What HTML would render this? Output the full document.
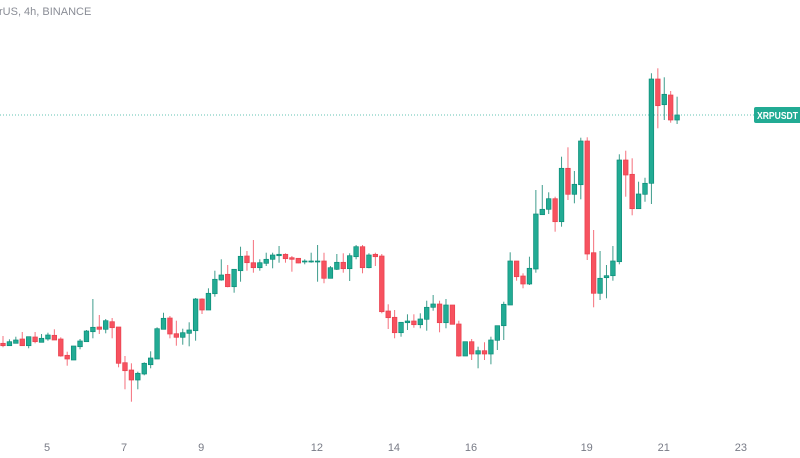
<!DOCTYPE html>
<html><head><meta charset="utf-8"><style>
html,body{margin:0;padding:0;background:#fff;width:800px;height:458px;overflow:hidden;font-family:"Liberation Sans",sans-serif}
</style></head><body>
<svg id="chart" width="800" height="458" xmlns="http://www.w3.org/2000/svg">
<text x="-1" y="15" font-size="11" fill="#8a8d96" font-family="Liberation Sans, sans-serif">rUS, 4h, BINANCE</text>
<g id="candles"></g>
<g id="xaxis"></g>
</svg>
<script>
const opens=[156.7,154.3,156.7,161,154.3,163,157.7,161,164.7,161,144.7,140,153.3,158.3,168.3,173,170.7,178.3,173,137.3,130,120,126,135.3,141,170.7,182,166.3,162.7,166.7,169.3,201,190,206.3,220,225.7,213.3,229.3,244,237.3,232.3,236.7,240.7,244.3,245.7,242.3,241.7,238,238.3,238.3,239,221.7,230.7,237.7,231.3,243.3,253.3,232.3,245.7,244,189,182.7,167.3,177.3,179,175.3,180.7,192.7,196,177.3,195,176,144,158.3,146,149.3,146,159.7,174.3,195,239,224,216,231,285.3,290.7,301.3,278.3,331.7,305.7,315.3,359,247.3,206.7,222.3,224.3,238.3,340,325.7,291.3,305.7,316.7,421,395.3,405,380];
const highs=[164,160.7,163.3,168,163.3,168,166,167.3,170.7,162.7,148.3,154,161,170,201,185,181,182,173,144,136.7,128.3,137.7,148.7,172.7,187.3,184,179.3,171.3,177.7,202,201.7,211.7,229.3,240.7,235,230.7,253.3,249,260,240.7,247.3,247.3,254,246.7,244,241.7,240.7,247.3,255,247.3,234,246,246.7,246.7,255,255,246.7,247.3,246,195.7,190,177.7,185.7,185.7,186.7,199.3,205,199.3,201,195,179.3,158.3,161,153.3,157.7,163.3,174.3,198.3,247.7,239,226.7,243.3,310,315,307.7,303.3,343.3,352.7,329,362.3,362.7,270,249,235,254,345.7,349.3,341.7,318.3,322.3,426.7,431.7,422.7,409,403.3];
const lows=[152.7,154.3,156.7,154.3,151.7,156.7,157.7,159.3,160,143.3,134.3,140,150.7,158.3,161.7,166,166.7,161.7,132.7,110.7,98.3,110.7,124.7,131.7,141,170.7,161.7,154.3,155.3,153.7,159.3,186,190,203.3,219.3,212.7,207.3,218.3,229.3,227.3,229.3,234,231.7,237.3,237.3,228.3,236.7,235.7,237.3,218.3,216.7,221.7,230,227.3,219,240.7,226.7,231.7,234,186.7,171,161.7,163.3,170,172.3,171.7,169.3,189.3,167.7,171.7,175.7,143.3,144,140,131.7,140,135.7,150,160,195,219.3,211.7,215,227.3,285.3,286,268.3,273.3,300,296.7,300.7,240,192.7,200,201.7,219.3,235.7,303.3,284.7,291.3,298.3,296,371.7,380,377.3,376];
const closes=[154.3,158.3,160,154.3,163.3,158.3,161.7,165,160,144,141,154,159,169,172.7,170.7,179.3,172.3,136.7,129.3,120,126.7,136.7,142,171.3,181.7,166,162.7,167.3,170,201,190,206.7,220.7,225,213.3,230.7,243.7,237.3,232.3,237.3,240.7,245,245.7,241.3,240.7,237,239,239,239,221.7,232.3,237.7,231.3,244.3,253.3,232.3,245,243.3,188.3,182.3,167.3,177.7,179,175.3,181,192.7,196,177.3,195,175.7,144,158.3,146,149.3,146,160,174.3,195.7,239,223.3,216,231.7,286,290.7,301.3,278.3,331.7,305.7,315.7,359,246,206.7,221.7,224.3,239,340,325,291.3,306,316.7,421,394.3,405.7,380,385];
const dayLabels=["5","7","9","12","14","16","19","21","23"];
const dayValues=[5,7,9,12,14,16,19,21,23];
const lastPrice=385;

const NS="http://www.w3.org/2000/svg";
function xScale(i){return 3+i*6.42;}
function yScale(v){return 500-v;}
function xDay(d){return 47+(d-5)*38.55;}
const g=document.getElementById('candles');
for(let i=0;i<opens.length;i++){
  const up=closes[i]>=opens[i];
  const fill=up?'#22ab94':'#f7525f', stroke=up?'#0b8d78':'#e8404e', wc=up?'#3e9c8c':'#f5707c';
  const x=xScale(i);
  const w=document.createElementNS(NS,'line');
  
  
  w.setAttribute('x1',x);w.setAttribute('x2',x);
  w.setAttribute('y1',yScale(highs[i]));w.setAttribute('y2',yScale(lows[i]));
  w.setAttribute('stroke',wc);w.setAttribute('stroke-width','1');
  g.appendChild(w);
  const top=yScale(Math.max(opens[i],closes[i])), bot=yScale(Math.min(opens[i],closes[i]));
  const r=document.createElementNS(NS,'rect');
  
  
  r.setAttribute('x',x-2.3);r.setAttribute('width',4.6);
  r.setAttribute('y',top);r.setAttribute('height',Math.max(1,bot-top));
  r.setAttribute('fill',fill);r.setAttribute('stroke',stroke);r.setAttribute('stroke-width','0.7');
  g.appendChild(r);
}
const svg=document.getElementById('chart');
const py=yScale(lastPrice);
const pl=document.createElementNS(NS,'line');


pl.setAttribute('x1',0);pl.setAttribute('x2',754);pl.setAttribute('y1',py);pl.setAttribute('y2',py);
pl.setAttribute('stroke','#22ab94');pl.setAttribute('stroke-width','1');pl.setAttribute('stroke-dasharray','1 2');pl.setAttribute('opacity','0.7');
svg.appendChild(pl);
const lb=document.createElementNS(NS,'rect');


lb.setAttribute('x',754);lb.setAttribute('y',py-8);lb.setAttribute('width',48);lb.setAttribute('height',16);lb.setAttribute('rx',2);lb.setAttribute('fill','#22ab94');
svg.appendChild(lb);
const lt=document.createElementNS(NS,'text');


lt.setAttribute('x',757);lt.setAttribute('y',py+4);lt.setAttribute('font-size','10');lt.setAttribute('font-weight','bold');lt.setAttribute('fill','#fff');
lt.setAttribute('textLength','41');lt.setAttribute('lengthAdjust','spacingAndGlyphs');
lt.textContent='XRPUSDT';
svg.appendChild(lt);
const xa=document.getElementById('xaxis');
for(let k=0;k<dayLabels.length;k++){
  const t=document.createElementNS(NS,'text');
  
  
  t.setAttribute('x',xDay(dayValues[k]));t.setAttribute('y',451);
  t.setAttribute('text-anchor','middle');t.setAttribute('font-size','11');t.setAttribute('fill','#787b86');
  t.textContent=dayLabels[k];
  xa.appendChild(t);
}
</script>
</body></html>
